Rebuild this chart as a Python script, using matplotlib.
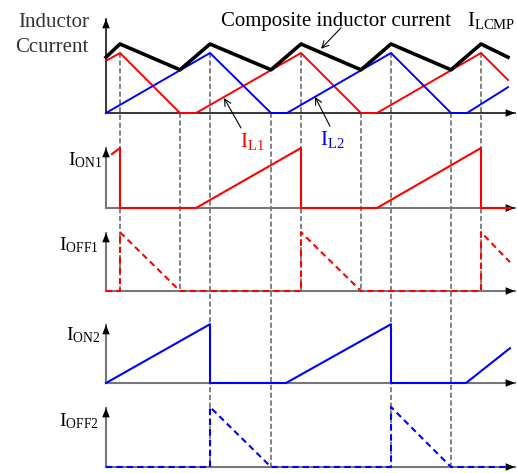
import matplotlib
matplotlib.use('Agg')
import matplotlib.pyplot as plt
from matplotlib.patches import ConnectionPatch

plt.rcParams['font.family'] = 'Liberation Serif'
plt.rcParams['mathtext.fontset'] = 'custom'
plt.rcParams['mathtext.rm'] = 'Liberation Serif'
plt.rcParams['mathtext.it'] = 'Liberation Serif:italic'

# time axis in arbitrary units, currents normalised to peak = 1
t_il1 = [0, 14, 74, 90, 195, 255, 271, 375, 402]
il1 = [0.87, 1.0, 0.0, 0.0, 1.0, 0.0, 0.0, 1.0, 0.55]
t_il2 = [0, 104, 165, 181, 285, 345, 361, 402]
il2 = [0.0, 1.0, 0.0, 0.0, 1.0, 0.0, 0.0, 0.43]
t_cmp = [0, 14, 74, 104, 165, 195, 255, 285, 345, 375, 402]
i_cmp = [0.93, 1.15, 0.72, 1.15, 0.72, 1.15, 0.72, 1.15, 0.72, 1.15, 0.93]

t_on1 = [6, 14, 14, 90, 195, 195, 271, 375, 375, 404]
on1 = [0.9, 1.0, 0.0, 0.0, 1.0, 0.0, 0.0, 1.0, 0.0, 0.0]
t_off1 = [0, 14, 14, 74, 195, 195, 255, 375, 375, 404]
off1 = [0.0, 0.0, 0.98, 0.0, 0.0, 0.98, 0.0, 0.0, 0.98, 0.48]
t_on2 = [0, 104, 104, 180, 285, 285, 360, 404]
on2 = [0.0, 0.98, 0.0, 0.0, 0.98, 0.0, 0.0, 0.58]
t_off2 = [0, 104, 104, 165, 285, 285, 345, 404]
off2 = [0.0, 0.0, 1.0, 0.0, 0.0, 1.0, 0.0, 0.0]

# switching instants (time, inductor current there)
ph1_events = [(14, 1.0), (74, 0.0), (195, 1.0), (255, 0.0), (375, 1.0)]
ph2_events = [(104, 1.0), (165, 0.0), (285, 1.0), (345, 0.0)]

W, H = 517, 473
fig = plt.figure(figsize=(W / 100, H / 100), dpi=100)
PX = 60.0  # pixels per current unit


def panel(base, tip, axcol):
    ax = fig.add_axes([100 / W, (H - base - 8) / H, 417 / W, (base - tip + 12) / H])
    ax.set_xlim(-6, 411)
    ax.set_ylim(-8 / PX, (base - tip + 4) / PX)
    ax.axis('off')
    ax.set_zorder(2)
    top = (base - tip) / PX
    lw = 1.1 if axcol == 'k' else 1.5
    ax.plot([0, 0], [0, top], color=axcol, lw=lw, clip_on=False, zorder=1)
    ax.plot([0, 409], [0, 0], color=axcol, lw=lw, clip_on=False, zorder=1)
    hd = dict(arrowstyle='-|>,head_length=0.42,head_width=0.17', color='k',
              lw=0, mutation_scale=16, shrinkA=0, shrinkB=0)
    ax.annotate('', xy=(0, top), xytext=(0, top - 0.3), arrowprops=hd, annotation_clip=False)
    ax.annotate('', xy=(409, 0), xytext=(390, 0), arrowprops=hd, annotation_clip=False)
    return ax


ax1 = panel(113, 19, 'k')
ax2 = panel(208, 148, '#777777')
ax3 = panel(291, 233, '#777777')
ax4 = panel(383, 325, '#777777')
ax5 = panel(467, 408, '#777777')

ax1.plot(t_cmp, i_cmp, color='k', lw=2.6, clip_on=False, zorder=4)
ax1.plot(t_il1, il1, color='#ff0000', lw=1.4, clip_on=False, zorder=3)
ax1.plot(t_il2, il2, color='#0000ff', lw=1.4, clip_on=False, zorder=3)

ax2.plot(t_on1, on1, color='#ff0000', lw=1.5, clip_on=False, zorder=3)
ax3.plot(t_off1, off1, color='#ff0000', lw=1.5, ls=(0, (3, 2)), clip_on=False, zorder=3)
ax4.plot(t_on2, on2, color='#0000ff', lw=1.5, clip_on=False, zorder=3)
ax5.plot(t_off2, off2, color='#0000ff', lw=1.5, ls=(0, (3, 2)), clip_on=False, zorder=3)

# dashed guide lines across panels
for (t, y), axb in [(e, ax3) for e in ph1_events] + [(e, ax5) for e in ph2_events]:
    con = ConnectionPatch(xyA=(t, y), coordsA=ax1.transData, xyB=(t, 0), coordsB=axb.transData,
                          color='#222222', lw=0.8, ls=(0, (4, 3)))
    con.set_zorder(1)
    fig.add_artist(con)

# labels
fig.text(89 / W, 1 - 27 / H, 'Inductor', ha='right', va='baseline', fontsize=15, color='#333333')
fig.text(89 / W, 1 - 52 / H, 'Ccurrent', ha='right', va='baseline', fontsize=15, color='#333333')
fig.text(451 / W, 1 - 26 / H, 'Composite inductor current', ha='right', va='baseline', fontsize=15)
fig.text(467 / W, 1 - 26 / H, r'$\mathrm{I_{LCMP}}$', ha='left', va='baseline', fontsize=15)

for txt, right, bl in [(r'$\mathrm{I_{ON1}}$', 102, 165), (r'$\mathrm{I_{OFF1}}$', 99, 250),
                       (r'$\mathrm{I_{ON2}}$', 100, 340), (r'$\mathrm{I_{OFF2}}$', 99, 426)]:
    fig.text(right / W, 1 - bl / H, txt, ha='right', va='baseline', fontsize=14)

fig.text(240 / W, 1 - 147 / H, r'$\mathrm{I_{L1}}$', ha='left', va='baseline', fontsize=15, color='#ff0000')
fig.text(320 / W, 1 - 145 / H, r'$\mathrm{I_{L2}}$', ha='left', va='baseline', fontsize=15, color='#0000ff')

arr = dict(arrowstyle='->', color='k', lw=0.8, mutation_scale=12, shrinkA=0, shrinkB=0)
ax1.annotate('', xy=(215, 1.07), xytext=(235, 1.42), arrowprops=arr, annotation_clip=False)
ax1.annotate('', xy=(118, 0.25), xytext=(135, -0.25), arrowprops=arr, annotation_clip=False)
ax1.annotate('', xy=(209, 0.27), xytext=(224, -0.22), arrowprops=arr, annotation_clip=False)

fig.savefig('out.png', dpi=100)
